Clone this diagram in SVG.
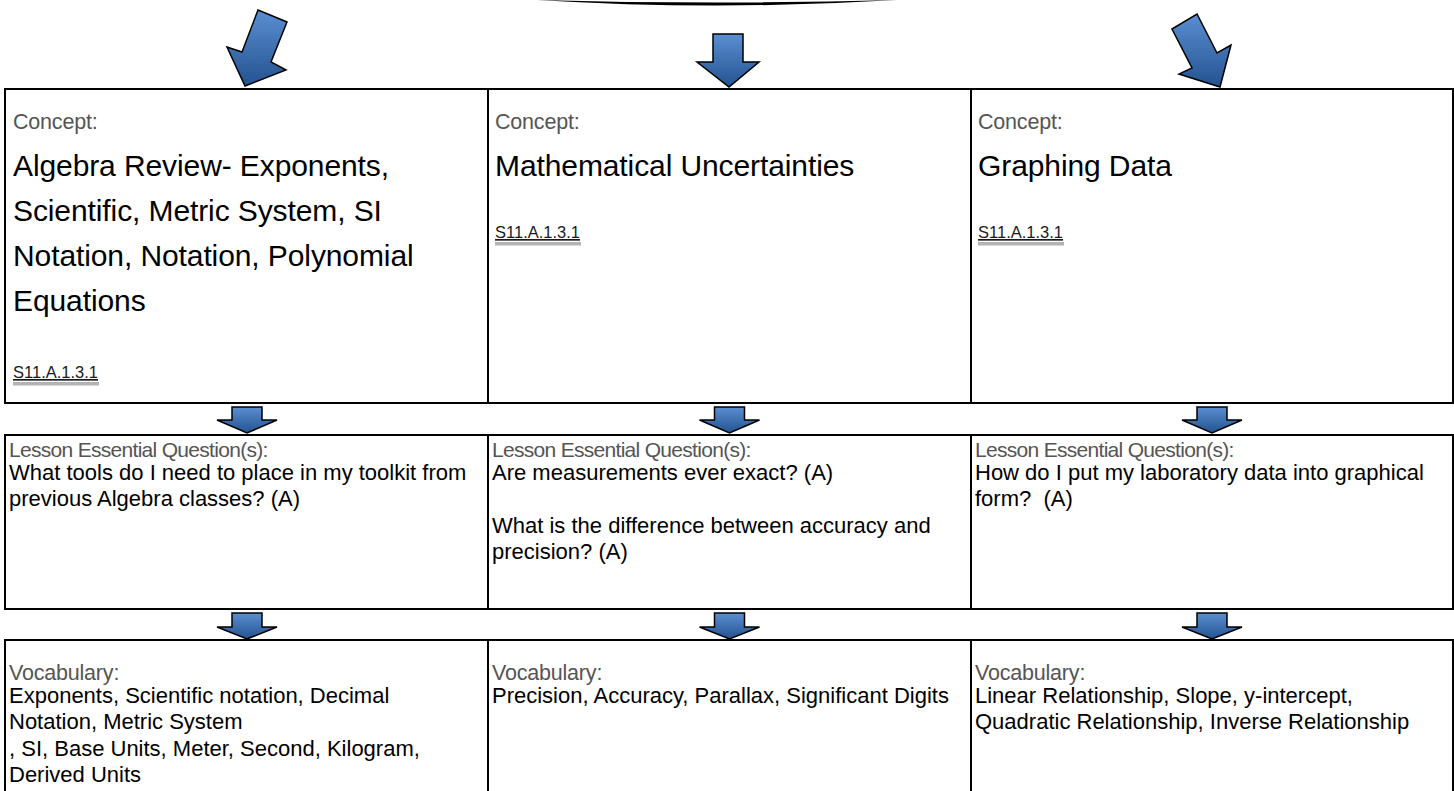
<svg xmlns="http://www.w3.org/2000/svg" width="1454" height="791" viewBox="0 0 1454 791">
<defs>
<linearGradient id="blue" x1="0" y1="0" x2="0" y2="1">
<stop offset="0" stop-color="#5b8fd2"/>
<stop offset="1" stop-color="#23528f"/>
</linearGradient>
<style>
.cell{fill:#fff;stroke:#000;stroke-width:2}
.lbl{font-family:"Liberation Sans",Arial,sans-serif;font-size:21.5px;fill:#555;letter-spacing:-0.2px}
.lq{font-size:21px;letter-spacing:-0.7px}
.ttl{font-family:"Liberation Sans",Arial,sans-serif;font-size:30px;fill:#000;letter-spacing:-0.1px}
.body{font-family:"Liberation Sans",Arial,sans-serif;font-size:22px;fill:#000}
.std{font-family:"Liberation Sans",Arial,sans-serif;font-size:16.5px;fill:#1a1a1a;text-decoration:underline}
.bar{fill:#b3b3b3}
.arr{fill:url(#blue);stroke:#000;stroke-width:1.5;stroke-linejoin:miter}
</style>
</defs>
<rect width="1454" height="791" fill="#fff"/>
<path d="M537,0 Q716,11 897,0 Q716,5 537,0 Z" fill="#000"/>

<g id="concept1">
<rect class="cell" x="5" y="89" width="483" height="314"/>
<text class="lbl" x="13" y="129">Concept:</text>
<text class="ttl" x="13" y="176">Algebra Review- Exponents,</text>
<text class="ttl" x="13" y="221">Scientific, Metric System, SI</text>
<text class="ttl" x="13" y="266">Notation, Notation, Polynomial</text>
<text class="ttl" x="13" y="311">Equations</text>
<text class="std" x="13" y="378">S11.A.1.3.1</text>
<rect class="bar" x="13" y="382" width="86" height="3.5"/>
</g>
<g id="concept2">
<rect class="cell" x="488" y="89" width="483" height="314"/>
<text class="lbl" x="495" y="129">Concept:</text>
<text class="ttl" x="495" y="176">Mathematical Uncertainties</text>
<text class="std" x="495" y="238">S11.A.1.3.1</text>
<rect class="bar" x="495" y="242" width="86" height="3.5"/>
</g>
<g id="concept3">
<rect class="cell" x="971" y="89" width="482" height="314"/>
<text class="lbl" x="978" y="129">Concept:</text>
<text class="ttl" x="978" y="176">Graphing Data</text>
<text class="std" x="978" y="238">S11.A.1.3.1</text>
<rect class="bar" x="978" y="242" width="86" height="3.5"/>
</g>

<g id="question1">
<rect class="cell" x="5" y="435" width="483" height="174"/>
<text class="lbl lq" x="9" y="457">Lesson Essential Question(s):</text>
<text class="body" x="9" y="480">What tools do I need to place in my toolkit from</text>
<text class="body" x="9" y="506">previous Algebra classes? (A)</text>
</g>
<g id="question2">
<rect class="cell" x="488" y="435" width="483" height="174"/>
<text class="lbl lq" x="492" y="457">Lesson Essential Question(s):</text>
<text class="body" x="492" y="480">Are measurements ever exact? (A)</text>
<text class="body" x="492" y="533">What is the difference between accuracy and</text>
<text class="body" x="492" y="559">precision? (A)</text>
</g>
<g id="question3">
<rect class="cell" x="971" y="435" width="482" height="174"/>
<text class="lbl lq" x="975" y="457">Lesson Essential Question(s):</text>
<text class="body" x="975" y="480">How do I put my laboratory data into graphical</text>
<text class="body" x="975" y="506">form?&#160; (A)</text>
</g>

<g id="vocab1">
<rect class="cell" x="5" y="640" width="483" height="160"/>
<text class="lbl" x="9" y="680">Vocabulary:</text>
<text class="body" x="9" y="703">Exponents, Scientific notation, Decimal</text>
<text class="body" x="9" y="729">Notation, Metric System</text>
<text class="body" x="9" y="756">, SI, Base Units, Meter, Second, Kilogram,</text>
<text class="body" x="9" y="782">Derived Units</text>
</g>
<g id="vocab2">
<rect class="cell" x="488" y="640" width="483" height="160"/>
<text class="lbl" x="492" y="680">Vocabulary:</text>
<text class="body" x="492" y="703">Precision, Accuracy, Parallax, Significant Digits</text>
</g>
<g id="vocab3">
<rect class="cell" x="971" y="640" width="482" height="160"/>
<text class="lbl" x="975" y="680">Vocabulary:</text>
<text class="body" x="975" y="703">Linear Relationship, Slope, y-intercept,</text>
<text class="body" x="975" y="729">Quadratic Relationship, Inverse Relationship</text>
</g>

<g id="connectors">
<path class="arr" d="M258,10 L287,22 L271,62 L286,70 L245,86 L227,47 L242,52 Z"/>
<path class="arr" d="M713,34 H743 V62 H759 L729,87 L697,62 H713 Z"/>
<path class="arr" d="M1172,29 L1197,14 L1217,53 L1231,45 L1220,87 L1179,74 L1192,68 Z"/>
<path class="arr" d="M232,407 H262 V420 H277 L247,433 L217,420 H232 Z"/>
<path class="arr" d="M714.5,407 H744.5 V420 H759.5 L729.5,433 L699.5,420 H714.5 Z"/>
<path class="arr" d="M1197,407 H1227 V420 H1242 L1212,433 L1182,420 H1197 Z"/>
<path class="arr" d="M232,613 H262 V627 H277 L247,639 L217,627 H232 Z"/>
<path class="arr" d="M714.5,613 H744.5 V627 H759.5 L729.5,639 L699.5,627 H714.5 Z"/>
<path class="arr" d="M1197,613 H1227 V627 H1242 L1212,639 L1182,627 H1197 Z"/>
</g>
</svg>
